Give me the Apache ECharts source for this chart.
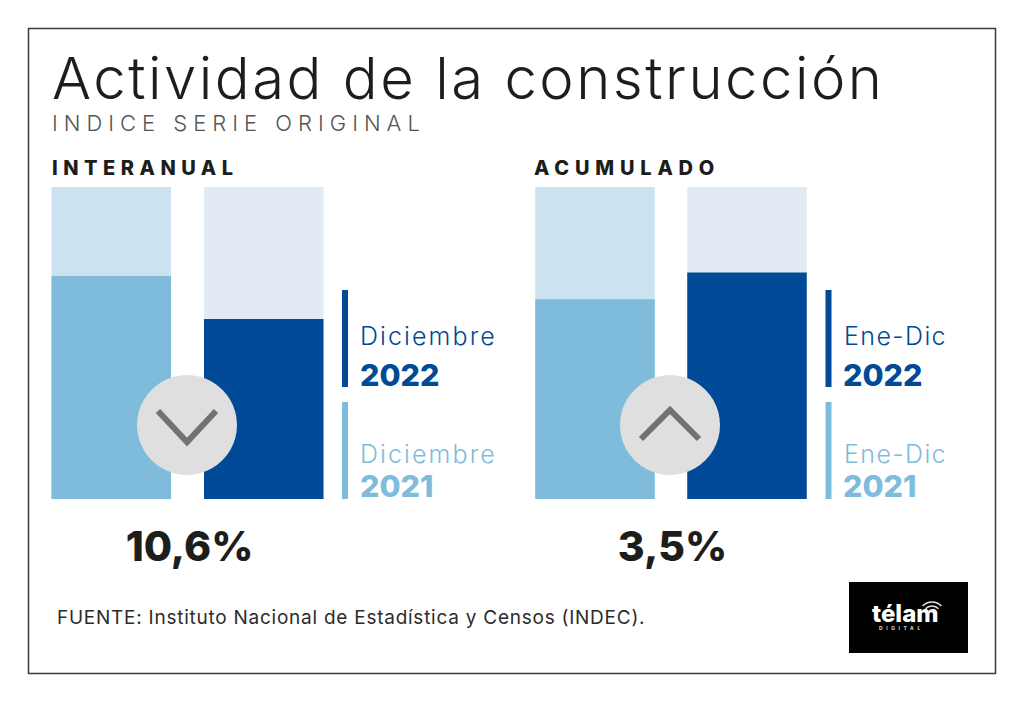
<!DOCTYPE html>
<html><head><meta charset="utf-8">
<style>html,body{margin:0;padding:0;background:#fff}#c{width:1024px;height:702px}</style>
<script src="https://cdn.jsdelivr.net/npm/echarts@6/dist/echarts.min.js"></script>
</head><body><div id="c"></div>
<script>
const titleText = 'Actividad de la construcción';
const subtitleText = 'INDICE SERIE ORIGINAL';
const panelNames = ['INTERANUAL', 'ACUMULADO'];
const interanualValues = [71.5, 57.7];
const acumuladoValues = [64, 72.6];
const scaleFull = [100, 100];
const years = ['2021', '2022'];
const periodNames = ['Diciembre', 'Ene-Dic'];
const changes = ['10,6%', '3,5%'];
const sourceText = 'FUENTE: Instituto Nacional de Estadística y Censos (INDEC).';

const FONT = 'Inter';
const DARK = '#004a97', LIGHT = '#7fbcdc', TRACK_L = '#cbe3f1', TRACK_D = '#e2eaf4';
const spacing = {
  [titleText]: 2.5,
  [subtitleText]: 6,
  [panelNames[0]]: 5.5,
  [panelNames[1]]: 5.8,
  [periodNames[0]]: 2.1,
  [periodNames[1]]: 1.4,
  [sourceText]: 0.75,
  'DIGITAL': 3.6
};

const chart = echarts.init(document.getElementById('c'), null, {renderer: 'svg', width: 1024, height: 702});

function t(x, base, text, size, weight, fill, align) {
  return {type: 'text', x, y: base + size * 0.11, silent: true, z: 20, style: {text, fontFamily: FONT, fontSize: size, fontWeight: weight, fill, textAlign: align || 'left', textVerticalAlign: 'bottom'}};
}
function bar(x, y, h, fill) { return {type: 'rect', shape: {x, y, width: 6, height: h}, style: {fill}, z: 5, silent: true}; }
function chevron(cx, up) {
  const a = up ? 14 : -14;
  return {type: 'polyline', z: 12, silent: true, shape: {points: [[cx - 29, 425 + a], [cx, 425 - a + (up ? -1 : 3)], [cx + 29, 425 + a]]}, style: {stroke: '#727272', lineWidth: 6, fill: null}};
}
function wave(r) {
  return {type: 'arc', z: 21, silent: true, shape: {cx: 932, cy: 615, r, startAngle: -Math.PI * 0.76, endAngle: -Math.PI * 0.24}, style: {stroke: '#e4e4e4', lineWidth: 1.4, fill: null}};
}
const graphics = [
  {type: 'rect', shape: {x: 28.5, y: 28.5, width: 967, height: 645}, style: {fill: null, stroke: '#3a3a3a', lineWidth: 1.5}, silent: true, z: 1},
  t(52, 100.5, titleText, 58, 300, '#1d1d1b'),
  t(52, 132, subtitleText, 22, 300, '#555555'),
  t(52, 176, panelNames[0], 20, 800, '#1d1d1b'),
  t(534, 176, panelNames[1], 20, 800, '#1d1d1b'),
  bar(342, 290, 97, DARK), bar(342, 402, 97, LIGHT),
  bar(825.5, 290, 97, DARK), bar(825.5, 402, 97, LIGHT),
  t(360, 346, periodNames[0], 25, 300, DARK),
  t(360, 387, years[1], 30.5, 800, DARK),
  t(360, 464, periodNames[0], 25, 300, LIGHT),
  t(360, 498, years[0], 30.5, 800, LIGHT),
  t(844, 346, periodNames[1], 25, 300, DARK),
  t(843, 387, years[1], 30.5, 800, DARK),
  t(844, 464, periodNames[1], 25, 300, LIGHT),
  t(843, 498, years[0], 30.5, 800, LIGHT),
  {type: 'circle', z: 11, silent: true, shape: {cx: 187, cy: 425, r: 50}, style: {fill: '#e0dfdf'}},
  {type: 'circle', z: 11, silent: true, shape: {cx: 670, cy: 425, r: 50}, style: {fill: '#e0dfdf'}},
  chevron(187, false), chevron(670, true),
  t(189.5, 562, changes[0], 41, 800, '#1d1d1b', 'center'),
  t(672.5, 562, changes[1], 41, 800, '#1d1d1b', 'center'),
  t(57, 625, sourceText, 19, 400, '#2b2b2b'),
  {type: 'rect', z: 5, silent: true, shape: {x: 849, y: 582, width: 119, height: 71}, style: {fill: '#000'}},
  t(872, 623, 'télam', 24, 800, '#fff'),
  t(879, 630, 'DIGITAL', 5, 700, '#ddd'),
  wave(13), wave(9), wave(5)
];

function barSeries(gridIndex, values) {
  return [
    {type: 'bar', xAxisIndex: gridIndex, yAxisIndex: gridIndex, barWidth: 119.5, barGap: '-100%', silent: true, z: 2,
     data: [{value: scaleFull[0], itemStyle: {color: TRACK_L}}, {value: scaleFull[1], itemStyle: {color: TRACK_D}}]},
    {type: 'bar', xAxisIndex: gridIndex, yAxisIndex: gridIndex, barWidth: 119.5, barGap: '-100%', silent: true, z: 3,
     data: [{value: values[0], itemStyle: {color: LIGHT}}, {value: values[1], itemStyle: {color: DARK}}]}
  ];
}
const hiddenX = i => ({type: 'category', gridIndex: i, data: years, show: false});
const hiddenY = i => ({type: 'value', gridIndex: i, min: 0, max: 100, show: false});

chart.setOption({
  animation: false,
  backgroundColor: '#fff',
  grid: [
    {left: 35, width: 305, top: 187, height: 312},
    {left: 519, width: 304, top: 187, height: 312}
  ],
  xAxis: [hiddenX(0), hiddenX(1)],
  yAxis: [hiddenY(0), hiddenY(1)],
  series: [...barSeries(0, interanualValues), ...barSeries(1, acumuladoValues)],
  graphic: {elements: graphics}
});

function applySpacing() {
  document.querySelectorAll('#c svg text').forEach(el => {
    const s = spacing[el.textContent];
    if (s) el.style.letterSpacing = s + 'px';
  });
}
applySpacing();
chart.on('finished', applySpacing);
</script></body></html>
